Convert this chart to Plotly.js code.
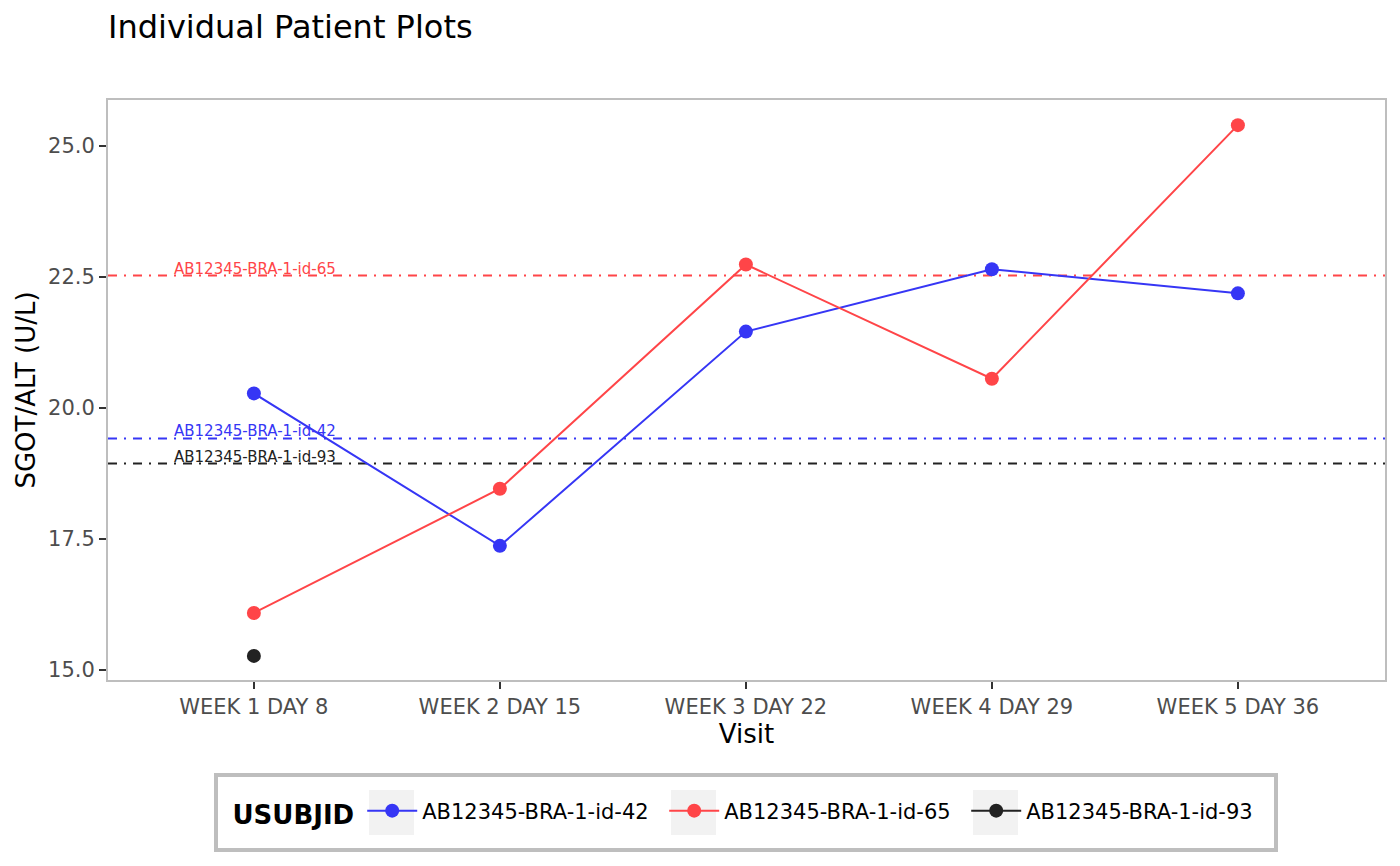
<!DOCTYPE html>
<html>
<head>
<meta charset="utf-8">
<script src="https://cdn.plot.ly/plotly-3.0.1.min.js"></script>
<style>html,body{margin:0;padding:0;background:#fff;}#chart{width:1400px;height:866px;}</style>
</head>
<body>
<div id="chart"></div>
<script>
// ---- data ----
var visits = ["WEEK 1 DAY 8", "WEEK 2 DAY 15", "WEEK 3 DAY 22", "WEEK 4 DAY 29", "WEEK 5 DAY 36"];
var subjects = ["AB12345-BRA-1-id-42", "AB12345-BRA-1-id-65", "AB12345-BRA-1-id-93"];
var visits42 = ["WEEK 1 DAY 8", "WEEK 2 DAY 15", "WEEK 3 DAY 22", "WEEK 4 DAY 29", "WEEK 5 DAY 36"];
var values42 = [20.28, 17.37, 21.46, 22.65, 22.19];
var visits65 = ["WEEK 1 DAY 8", "WEEK 2 DAY 15", "WEEK 3 DAY 22", "WEEK 4 DAY 29", "WEEK 5 DAY 36"];
var values65 = [16.09, 18.46, 22.74, 20.56, 25.40];
var visits93 = ["WEEK 1 DAY 8"];
var values93 = [15.27];
var refValues = [19.42, 22.53, 18.94];   // horizontal reference lines per subject
var yTicks = [15.0, 17.5, 20.0, 22.5, 25.0];

var colors = ["#3636F5", "#FF4548", "#222222"];
var font = "DejaVu Sans, Verdana, sans-serif";

var xs = [visits42, visits65, visits93];
var ys = [values42, values65, values93];

var traces = subjects.map(function (s, i) {
  return {
    type: "scatter", mode: "lines+markers", name: s,
    x: xs[i], y: ys[i],
    line: {color: colors[i], width: 2},
    marker: {color: colors[i], size: 14},
    hoverinfo: "x+y+name"
  };
});

// plot-area geometry in pixels (for paper-coordinate decorations)
var L = 108, R = 1385, T = 100, B = 680;
function px(x) { return (x - L) / (R - L); }
function py(y) { return (B - y) / (B - T); }

var shapes = [];
var annotations = [];

// legend frame and key backgrounds (ggplot style)
shapes.push({
  type: "rect", xref: "paper", yref: "paper",
  x0: px(216), x1: px(1276), y0: py(775), y1: py(850),
  fillcolor: "#ffffff", line: {color: "#bebebe", width: 4}, layer: "above"
});
var keyLeft = [369, 671, 973];
keyLeft.forEach(function (k) {
  shapes.push({
    type: "rect", xref: "paper", yref: "paper",
    x0: px(k), x1: px(k + 45), y0: py(790), y1: py(835),
    fillcolor: "#f2f2f2", line: {width: 0}, layer: "above"
  });
});

subjects.forEach(function (s, i) {
  shapes.push({
    type: "line", xref: "paper", yref: "y", x0: 0, x1: 1,
    y0: refValues[i], y1: refValues[i], layer: "below",
    line: {color: colors[i], width: 2, dash: "9px,7px,2px,7px"}
  });
  annotations.push({
    xref: "paper", yref: "y", x: px(172), y: refValues[i],
    xanchor: "left", yanchor: "bottom", yshift: -4,
    text: s, showarrow: false,
    font: {family: font, size: 15, color: colors[i]}
  });
});

var layout = {
  width: 1400, height: 866,
  margin: {l: L, r: 1400 - R, t: T, b: 866 - B},
  paper_bgcolor: "#ffffff", plot_bgcolor: "#ffffff",
  font: {family: font, color: "#000"},
  title: {
    text: "Individual Patient Plots", xref: "paper", x: 0, xanchor: "left",
    yref: "container", y: 1 - 27 / 866, yanchor: "middle",
    font: {family: font, size: 32, color: "#000"}
  },
  xaxis: {
    type: "category", categoryorder: "array", categoryarray: visits,
    range: [-0.593, 4.598], showgrid: false, zeroline: false,
    ticks: "outside", ticklen: 7, tickwidth: 2, tickcolor: "#333333",
    tickfont: {family: font, size: 21, color: "#4d4d4d"},
    showline: true, linecolor: "#bebebe", linewidth: 2, mirror: true,
    title: {text: "Visit", font: {family: font, size: 26, color: "#000"}, standoff: 4},
    automargin: false
  },
  yaxis: {
    range: [14.81, 25.88], showgrid: false, zeroline: false,
    tickvals: yTicks, ticktext: yTicks.map(function (v) { return v.toFixed(1); }),
    ticks: "outside", ticklen: 7, tickwidth: 2, tickcolor: "#333333",
    tickfont: {family: font, size: 21, color: "#4d4d4d"},
    showline: true, linecolor: "#bebebe", linewidth: 2, mirror: true,
    title: {text: "SGOT/ALT (U/L)", font: {family: font, size: 26, color: "#000"}, standoff: 5},
    automargin: false
  },
  showlegend: true,
  legend: {
    orientation: "h", xref: "paper", x: px(230.5), xanchor: "left",
    yref: "paper", y: py(812.5), yanchor: "middle",
    bgcolor: "rgba(0,0,0,0)", borderwidth: 0,
    title: {text: "<b>USUBJID</b>", side: "left", font: {family: font, size: 26, color: "#000"}},
    font: {family: font, size: 21, color: "#000"},
    itemwidth: 50, entrywidth: 237, entrywidthmode: "pixels"
  },
  shapes: shapes,
  annotations: annotations
};

Plotly.newPlot("chart", traces, layout, {displayModeBar: false});
</script>
</body>
</html>
